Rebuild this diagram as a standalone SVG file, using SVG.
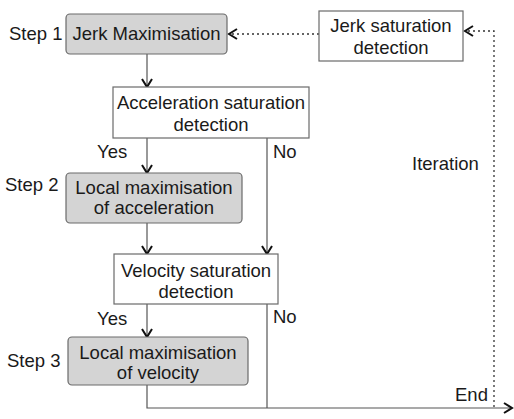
<svg xmlns="http://www.w3.org/2000/svg" width="514" height="419" viewBox="0 0 514 419">
<defs>
<style>
text{font-family:"Liberation Sans",Arial,sans-serif;font-size:18.5px;fill:#1a1a1a}
.c{text-anchor:middle}
.g rect{fill:#d4d4d4;stroke:#6a6a6a;stroke-width:1.2}
.w rect{fill:#fff;stroke:#6a6a6a;stroke-width:1.2}
.ln{fill:none;stroke:#555;stroke-width:1.2}
.dt{fill:none;stroke:#333;stroke-width:1.3;stroke-dasharray:2 3}
</style>
<marker id="ah" markerWidth="12" markerHeight="12" refX="10" refY="6" orient="auto" markerUnits="userSpaceOnUse">
<path d="M2,1 L10,6 L2,11" fill="none" stroke="#111" stroke-width="2"/>
</marker>
</defs>
<g id="connectors">
<line class="ln" x1="147" y1="54" x2="147" y2="87" marker-end="url(#ah)"/>
<line class="ln" x1="147" y1="138" x2="147" y2="173" marker-end="url(#ah)"/>
<line class="ln" x1="267" y1="138" x2="267" y2="254" marker-end="url(#ah)"/>
<line class="ln" x1="147" y1="223" x2="147" y2="254" marker-end="url(#ah)"/>
<line class="ln" x1="147" y1="304" x2="147" y2="337" marker-end="url(#ah)"/>
<line class="ln" x1="267" y1="304" x2="267" y2="408"/>
<polyline class="ln" points="147,385 147,408 512,408" marker-end="url(#ah)"/>
<line class="dt" x1="319" y1="34" x2="229" y2="34" marker-end="url(#ah)"/>
<polyline class="dt" points="494,407 494,31 465,31" marker-end="url(#ah)"/>
<text x="97" y="158">Yes</text>
<text x="273" y="158">No</text>
<text x="97" y="325">Yes</text>
<text x="273" y="323">No</text>
<text x="412" y="170">Iteration</text>
<text x="455" y="401">End</text>
</g>
<g id="step1" class="g">
<text x="9" y="40">Step 1</text>
<rect x="66" y="14" width="161" height="40" rx="4"/>
<text class="c" x="146.5" y="40">Jerk Maximisation</text>
</g>
<g id="jerk-sat" class="w">
<rect x="319" y="11" width="144" height="50"/>
<text class="c" x="391" y="32">Jerk saturation</text>
<text class="c" x="391" y="54">detection</text>
</g>
<g id="acc-sat" class="w">
<rect x="113" y="87" width="196" height="51"/>
<text class="c" x="211" y="109">Acceleration saturation</text>
<text class="c" x="211" y="131">detection</text>
</g>
<g id="step2" class="g">
<text x="5" y="191">Step 2</text>
<rect x="66" y="173" width="176" height="50" rx="4"/>
<text class="c" x="154" y="194">Local maximisation</text>
<text class="c" x="154" y="214">of acceleration</text>
</g>
<g id="vel-sat" class="w">
<rect x="114" y="254" width="164" height="50"/>
<text class="c" x="196" y="277">Velocity saturation</text>
<text class="c" x="196" y="298">detection</text>
</g>
<g id="step3" class="g">
<text x="7" y="367">Step 3</text>
<rect x="68" y="337" width="180" height="48" rx="4"/>
<text class="c" x="158" y="359">Local maximisation</text>
<text class="c" x="158" y="379">of velocity</text>
</g>
</svg>
